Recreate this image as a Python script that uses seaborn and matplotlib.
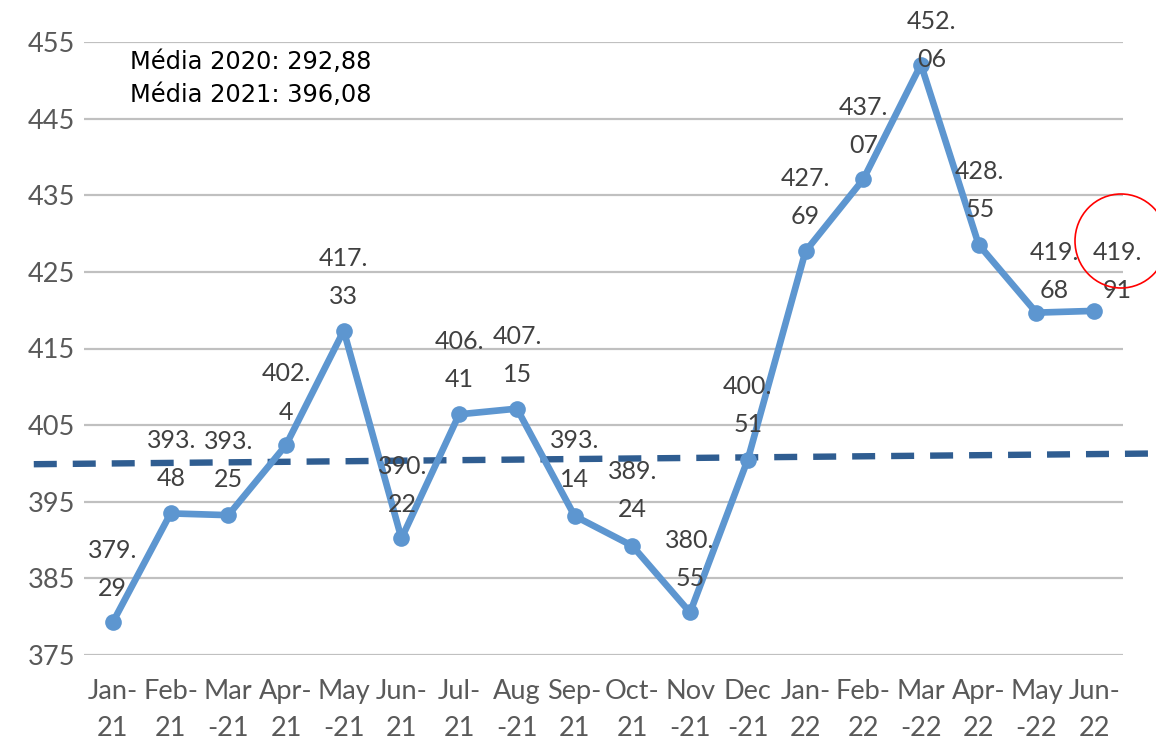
import matplotlib
matplotlib.use("Agg")
import matplotlib.pyplot as plt
import seaborn as sns
import pandas as pd
from matplotlib.patches import Ellipse

months = ["Jan-\n21", "Feb-\n21", "Mar\n-21", "Apr-\n21", "May\n-21", "Jun-\n21",
          "Jul-\n21", "Aug\n-21", "Sep-\n21", "Oct-\n21", "Nov\n-21", "Dec\n-21",
          "Jan-\n22", "Feb-\n22", "Mar\n-22", "Apr-\n22", "May\n-22", "Jun-\n22"]
values = [379.29, 393.48, 393.25, 402.4, 417.33, 390.22,
          406.41, 407.15, 393.14, 389.24, 380.55, 400.51,
          427.69, 437.07, 452.06, 428.55, 419.68, 419.91]
value_labels = ["379.\n29", "393.\n48", "393.\n25", "402.\n4", "417.\n33", "390.\n22",
                "406.\n41", "407.\n15", "393.\n14", "389.\n24", "380.\n55", "400.\n51",
                "427.\n69", "437.\n07", "452.\n06", "428.\n55", "419.\n68", "419.\n91"]
# dashed reference line, value at its left and right end
ref_line = [399.9, 401.3]
y_ticks = [375, 385, 395, 405, 415, 425, 435, 445, 455]
note_lines = ["Média 2020: 292,88", "Média 2021: 396,08"]

# label placement in pixels: shift right, gap from point to centre of the 2nd line
label_dx = [0, 1, 0, 0, 0, 1, 0, 1, 0, 0, 0, 0, 0, 0, 11, 1, 18, 23]
label_gap = [35, 36, 37, 34, 35, 35, 36, 35, 38, 37, 35, 36, 36, 35, 6, 36, 23, 21]

df = pd.DataFrame({"x": range(len(values)), "value": values})

sns.set_style("white")
plt.rcParams["font.family"] = ["Lato", "DejaVu Sans"]

fig = plt.figure(figsize=(11.56, 7.39), dpi=100)
ax = fig.add_axes([84 / 1156, 1 - 655 / 739, (1123 - 84) / 1156, (655 - 42) / 739])

for t in y_ticks:
    ax.axhline(t, color="#c0c0c0", lw=1.6, zorder=0)

# dashed reference line runs past the plot area on both sides
ax.plot([-1.37, 18.1], ref_line, color="#2f5d91", lw=4.6, dashes=(3.6, 2.5),
        clip_on=False, zorder=2)

sns.lineplot(data=df, x="x", y="value", ax=ax, color="#5d96d0", lw=4.8,
             marker="o", markersize=12, markeredgewidth=0, zorder=3)

px = 72 / 100
for i, (v, lab) in enumerate(zip(values, value_labels)):
    ax.annotate(lab, (i, v), xytext=(label_dx[i] * px, (label_gap[i] + 18) * px),
                textcoords="offset points", ha="center", va="center",
                fontsize=18, color="#404040", linespacing=1.8, zorder=4)

ax.set_xlim(-0.5, len(values) - 0.5)
ax.set_ylim(375, 455)
ax.set_yticks(y_ticks)
ax.set_xticks(range(len(months)))
ax.set_xticklabels(months, linespacing=1.6)
ax.tick_params(axis="both", length=0, labelsize=19.5, labelcolor="#595959")
ax.tick_params(axis="y", pad=6.5)
ax.tick_params(axis="x", pad=17)
ax.set_xlabel("")
ax.set_ylabel("")
sns.despine(ax=ax, left=True, bottom=True)

fig.text(130 / 1156, 1 - 62 / 739, note_lines[0], fontsize=17.4, family="DejaVu Sans",
         va="center", ha="left", color="black")
fig.text(130 / 1156, 1 - 95 / 739, note_lines[1], fontsize=17.4, family="DejaVu Sans",
         va="center", ha="left", color="black")

fig.add_artist(Ellipse((1121 / 1156, 1 - 241 / 739), 92 / 1156, 94 / 739,
                       transform=fig.transFigure, fill=False, edgecolor="red", lw=1.2))

fig.savefig("out.png", dpi=100)
